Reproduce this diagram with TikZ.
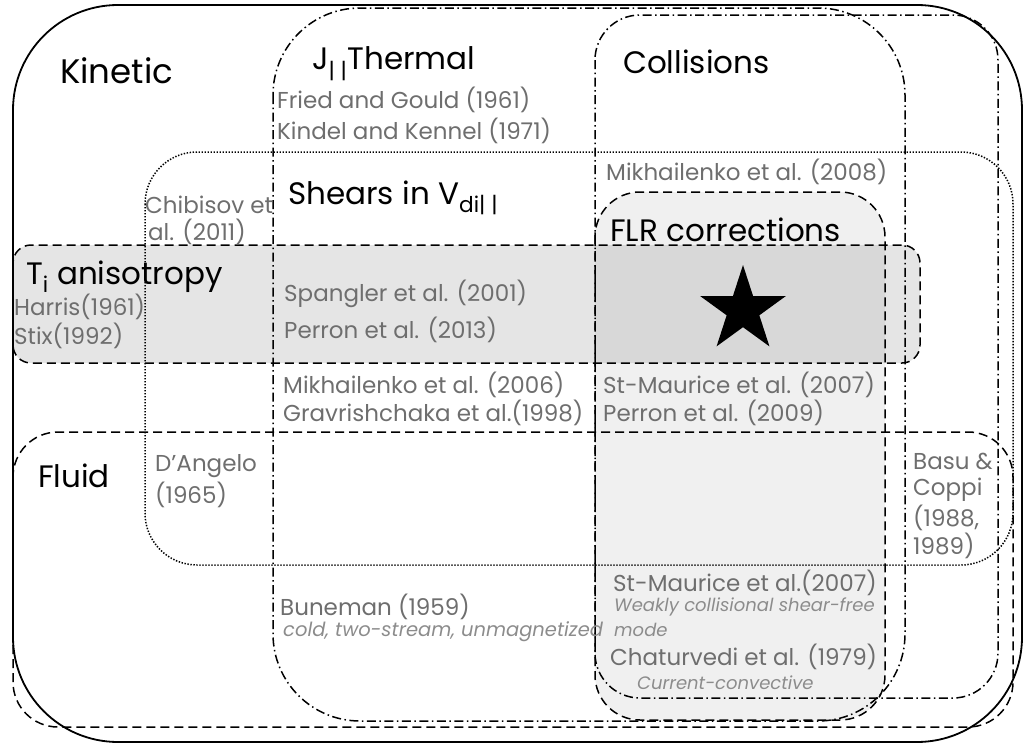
\documentclass[tikz,border=0pt]{standalone}
\usepackage{fontspec}
\setmainfont{Poppins}
\usetikzlibrary{shapes.geometric}

\tikzset{
  setline/.style={line width=1.5pt},
  dashes/.style={dash pattern=on 9pt off 5pt},
  dashdot/.style={dash pattern=on 9pt off 3.5pt on 1.5pt off 3.5pt},
  dots/.style={dash pattern=on 1.4pt off 1.6pt},
  head/.style={anchor=west, inner sep=0pt, font=\fontsize{31}{33}\selectfont},
  ref/.style={anchor=west, inner sep=0pt, text=black!57, font=\fontsize{23}{25}\selectfont},
  note/.style={anchor=west, inner sep=0pt, text=black!45, font=\fontsize{18}{20}\selectfont\itshape},
}

\begin{document}
\begin{tikzpicture}[x=1pt, y=-1pt]
    \useasboundingbox (0,0) rectangle (1026,744);

    % shaded regions
    \fill[black, opacity=0.1, rounded corners=18pt] (13,245) rectangle (920,363);
    \fill[black, opacity=0.06, rounded corners=45pt] (595,192) rectangle (885,720);

    % outlines
    \draw[line width=1.8pt, rounded corners=105pt] (13,5) rectangle (1022,742);      % kinetic
    \draw[setline, dashdot, rounded corners=87pt] (273,8) rectangle (905,721);       % J thermal
    \draw[setline, dashdot, rounded corners=45pt] (595,15) rectangle (998,698);      % collisions
    \draw[setline, dots, rounded corners=52pt] (145,152) rectangle (1013,565);       % shears
    \draw[setline, dashes, rounded corners=18pt] (13,245) rectangle (920,363);       % T_i
    \draw[setline, dashes, rounded corners=45pt] (595,192) rectangle (885,720);      % FLR
    \draw[setline, dashes, rounded corners=45pt] (13,432) rectangle (1013,727);      % fluid

    \node[star, star points=5, star point ratio=2.618, minimum size=90pt, inner sep=0pt, fill=black] (star) at (743,310) {};

    % headings
    \node[head, font=\fontsize{34}{36}\selectfont] (kinetic) at (60,71) {Kinetic};
    \node[head] (thermal) at (312,64) {J\textsubscript{| |}Thermal};
    \node[head] (collis) at (623,62) {Collisions};
    \node[head] (shears) at (288,198) {Shears in V\textsubscript{di| |}};
    \node[head] (flr) at (610,230) {FLR corrections};
    \node[head] (aniso) at (26,277) {T\textsubscript{i} anisotropy};
    \node[head] (fluid) at (38,476) {Fluid};

    % references
    \node[ref] (fried) at (277,100) {Fried and Gould (1961)};
    \node[ref] (kindel) at (277,131) {Kindel and Kennel (1971)};
    \node[ref] (mikh08) at (606,172) {Mikhailenko et al. (2008)};
    \node[ref] (chib1) at (145,205) {Chibisov et};
    \node[ref] (chib2) at (148,232) {al. (2011)};
    \node[ref] (harris) at (14,307) {Harris(1961)};
    \node[ref] (stix) at (14,336) {Stix(1992)};
    \node[ref] (spangler) at (284,294) {Spangler et al. (2001)};
    \node[ref] (perron13) at (284,330) {Perron et al. (2013)};
    \node[ref] (mikh06) at (283,385) {Mikhailenko et al. (2006)};
    \node[ref] (grav) at (283,413) {Gravrishchaka et al.(1998)};
    \node[ref] (stm07a) at (603,385) {St-Maurice et al. (2007)};
    \node[ref] (perron09) at (603,413) {Perron et al. (2009)};
    \node[ref] (dang1) at (155,466) {D'Angelo};
    \node[ref] (dang2) at (155,495) {(1965)};
    \node[ref] (basu1) at (913,461) {Basu \&};
    \node[ref] (basu2) at (913,490) {Coppi};
    \node[ref] (basu3) at (913,518) {(1988,};
    \node[ref] (basu4) at (913,546) {1989)};
    \node[ref] (buneman) at (280,607) {Buneman (1959)};
    \node[note, font=\fontsize{19.5}{21}\selectfont\itshape] (cold) at (283,632) {cold, two-stream, unmagnetized};
    \node[ref] (stm07b) at (613,583) {St-Maurice et al.(2007)};
    \node[note] (weak1) at (614,607) {Weakly collisional shear-free};
    \node[note] (weak2) at (614,630) {mode};
    \node[ref] (chat) at (610,657) {Chaturvedi et al. (1979)};
    \node[note] (curr) at (637,683) {Current-convective};
\end{tikzpicture}
\end{document}
